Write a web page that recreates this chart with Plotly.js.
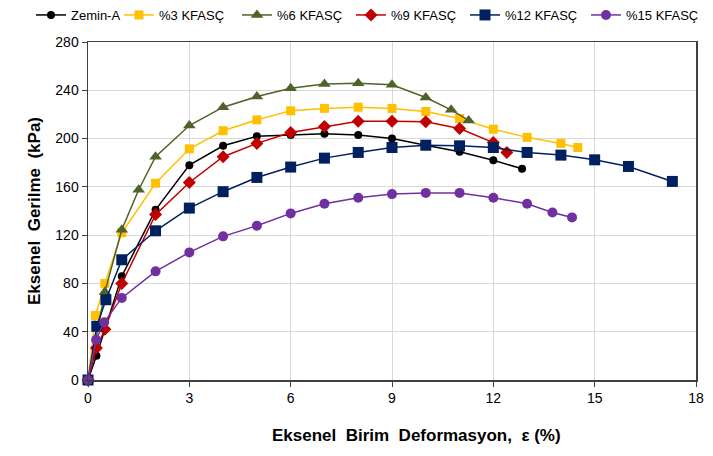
<!DOCTYPE html>
<html>
<head>
<meta charset="utf-8">
<script src="https://cdn.plot.ly/plotly-3.0.1.min.js"></script>
<style>html,body{margin:0;padding:0;background:#fff;}#chart{width:713px;height:456px;}</style>
</head>
<body>
<div id="chart"></div>
<script>
var seriesNames = ["Zemin-A", "%3 KFASÇ", "%6 KFASÇ", "%9 KFASÇ", "%12 KFASÇ", "%15 KFASÇ"];

var zeminX = [0, 0.25, 1, 2, 3, 4, 5, 6, 7, 8, 9, 10, 11, 12, 12.85];
var zeminY = [0, 20, 86, 141, 178, 194, 202, 203, 204, 203, 200, 194.5, 189, 182, 175];

var k3X = [0, 0.22, 0.5, 1, 2, 3, 4, 5, 6, 7, 8, 9, 10, 11, 12, 13, 14, 14.5];
var k3Y = [0, 53.5, 80, 122, 163, 191.5, 206.5, 215.5, 223, 225, 226, 225, 222.4, 216.6, 207.8, 201, 196, 192.6];

var k6X = [0, 0.5, 1, 1.5, 2, 3, 4, 5, 6, 7, 8, 9, 10, 10.75, 11.27];
var k6Y = [0, 73, 124.5, 157.6, 185, 210.8, 226, 234.8, 241.7, 245.3, 245.9, 244.5, 234, 223.8, 215];

var k9X = [0, 0.25, 0.5, 1, 2, 3, 4, 5, 6, 7, 8, 9, 10, 11, 12, 12.4];
var k9Y = [0, 26.5, 42, 80, 137, 163.6, 185, 196, 205, 210, 214.4, 214.4, 213.9, 208.3, 196.7, 188.5];

var k12X = [0, 0.26, 0.53, 1, 2, 3, 4, 5, 6, 7, 8, 9, 10, 11, 12, 13, 14, 15, 16, 17.3];
var k12Y = [0, 44.5, 66.5, 99.6, 123.6, 142.4, 156, 167.8, 176.4, 183.8, 188.5, 192.6, 194.5, 194, 192.6, 188.5, 186.3, 182.4, 176.9, 164.5];

var k15X = [0, 0.24, 0.48, 1, 2, 3, 4, 5, 6, 7, 8, 9, 10, 11, 12, 13, 13.75, 14.33];
var k15Y = [0, 33.4, 47.8, 68, 90, 105.7, 119, 127.8, 138, 146, 151, 154, 155, 155, 151, 146, 138.8, 134.7];

var xTicks = [0, 3, 6, 9, 12, 15, 18];
var yTicks = [0, 40, 80, 120, 160, 200, 240, 280];

var lineColors = ["#000000", "#FFC000", "#4F6228", "#C00000", "#002060", "#7030A0"];
var markerColors = ["#000000", "#FFC000", "#4F6228", "#C00000", "#002060", "#7030A0"];
var symbols = ["circle", "square", "triangle-up", "diamond", "square", "circle"];
var sizes = [8, 9, 11, 10, 11, 10];

var xs = [zeminX, k3X, k6X, k9X, k12X, k15X];
var ys = [zeminY, k3Y, k6Y, k9Y, k12Y, k15Y];

var fontFam = "'Liberation Sans', Arial, sans-serif";
var legendLeft = [31, 119, 237, 351, 465, 586];

var layout = {
  width: 713,
  height: 456,
  margin: {l: 88, r: 17, t: 42, b: 76},
  paper_bgcolor: "#ffffff",
  plot_bgcolor: "#ffffff",
  font: {family: fontFam, size: 13, color: "#000000"},
  showlegend: true,
  xaxis: {
    range: [0, 18],
    tickvals: xTicks,
    ticktext: xTicks.map(String),
    showgrid: true,
    gridcolor: "#D9D9D9",
    gridwidth: 1,
    zeroline: false,
    showline: true,
    linecolor: "#404040",
    linewidth: 1.5,
    mirror: true,
    ticks: "outside",
    ticklen: 5,
    tickcolor: "#404040",
    tickfont: {family: fontFam, size: 14, color: "#000000"},
    title: {text: ""}
  },
  yaxis: {
    range: [0, 280],
    tickvals: yTicks,
    ticktext: yTicks.map(String),
    showgrid: true,
    gridcolor: "#D9D9D9",
    gridwidth: 1,
    zeroline: false,
    showline: true,
    linecolor: "#404040",
    linewidth: 1.5,
    mirror: true,
    ticks: "outside",
    ticklen: 5,
    tickcolor: "#404040",
    tickfont: {family: fontFam, size: 14, color: "#000000"},
    title: {text: "<b>Eksenel  Gerilme  (kPa)</b>", font: {family: fontFam, size: 17, color: "#000000"}, standoff: 10}
  },
  annotations: [{
    text: "<b>Eksenel  Birim  Deformasyon,  ε (%)</b>",
    xref: "paper", yref: "paper",
    x: 0.54, y: -0.165,
    xanchor: "center", yanchor: "middle",
    showarrow: false,
    font: {family: fontFam, size: 17, color: "#000000"}
  }]
};

var traces = [];
for (var i = 0; i < xs.length; i++) {
  var lname = i === 0 ? "legend" : "legend" + (i + 1);
  traces.push({
    type: "scatter",
    mode: "lines+markers",
    name: seriesNames[i],
    legend: lname,
    x: xs[i],
    y: ys[i],
    line: {color: lineColors[i], width: 1.5},
    marker: {symbol: symbols[i], size: sizes[i], color: markerColors[i], line: {width: 0}},
    cliponaxis: false
  });
  layout[lname] = {
    orientation: "h",
    xref: "container",
    x: legendLeft[i] / 713, xanchor: "left",
    yref: "container",
    y: 1.0, yanchor: "top",
    font: {family: fontFam, size: 13, color: "#000000"},
    bgcolor: "rgba(0,0,0,0)"
  };
}

Plotly.newPlot("chart", traces, layout, {displayModeBar: false, staticPlot: true});
</script>
</body>
</html>
